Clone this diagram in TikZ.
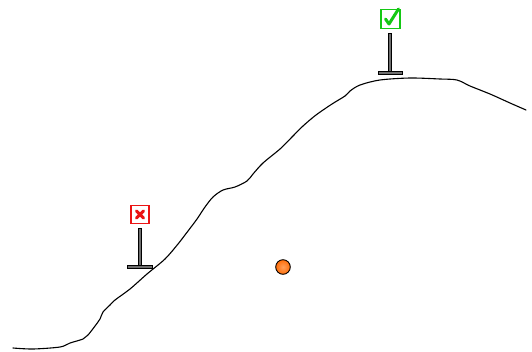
\documentclass[tikz,border=0pt]{standalone}
\usetikzlibrary{calc}
\definecolor{okgreen}{RGB}{20,200,20}
\definecolor{badred}{RGB}{235,20,20}
\definecolor{ballorange}{RGB}{255,110,10}
\definecolor{balllight}{RGB}{255,160,90}
\definecolor{postgray}{RGB}{110,110,110}
\tikzset{
  hill/.style={line width=1.1pt, line join=round, line cap=round},
  post/.style={draw=black, fill=postgray, line width=0.5pt},
  signbox/.style={draw=#1, line width=1.8pt, fill=white},
  mark/.style={draw=#1, line width=3pt, line cap=round, line join=round}
}
\begin{document}
\begin{tikzpicture}[x=1pt,y=-1pt]
\useasboundingbox (0,0) rectangle (532,351);
% the hill profile
\draw[hill] plot[smooth, tension=0.5] coordinates {
 (13,348) (33,349) (60,347) (70,343) (83,339) (88,335) (95,326) (100,319)
 (103,312) (110,305) (115,300) (130,289) (147,274) (165,259) (178,244)
 (188,231) (197,219) (205,207) (213,197) (223,190) (235,187) (247,181)
 (253,174) (263,163) (280,149) (292,137) (303,126) (316,115) (332,104)
 (345,96) (350,91) (360,85) (380,80) (410,78) (440,79) (457,80) (470,86)
 (490,94) (510,103) (526,110)};
% green sign on the summit
\draw[post] (388.5,33) rectangle (391.5,71);
\draw[post] (378,71) rectangle (402,74);
\node[signbox=okgreen, minimum size=19pt, inner sep=0pt] (good) at (390.5,19) {};
\draw[mark=okgreen] ($(good.center)+(-5,0)$) -- ($(good.center)+(-1.5,5)$) -- ($(good.center)+(8,-10)$);
% red sign on the slope
\draw[post] (138.5,228) rectangle (141.5,265);
\draw[post] (127,265) rectangle (152,268);
\node[signbox=badred, minimum size=18pt, inner sep=0pt] (bad) at (140,214.5) {};
\draw[mark=badred] ($(bad.center)+(-3.5,-3.5)$) -- ($(bad.center)+(3.5,3.5)$)
  ($(bad.center)+(3.5,-3.5)$) -- ($(bad.center)+(-3.5,3.5)$);
% the ball
\shade[inner color=balllight, outer color=ballorange] (283,267) circle (7.3);
\draw[line width=0.9pt] (283,267) circle (7.3);
\end{tikzpicture}
\end{document}
